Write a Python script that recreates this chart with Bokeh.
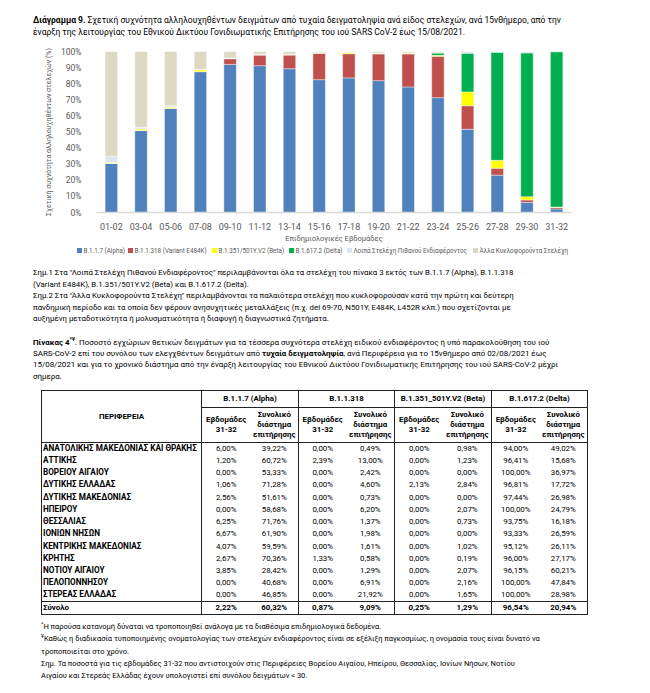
from bokeh.plotting import figure
from bokeh.models import (ColumnDataSource, FactorRange, FixedTicker, PrintfTickFormatter,
                          Div, Range1d)
from bokeh.layouts import column
from bokeh.embed import file_html
from bokeh.resources import INLINE

FONT = "Roboto"

# ---------------- chart data (percent of sequenced samples) ----------------
weeks = ["01-02", "03-04", "05-06", "07-08", "09-10", "11-12", "13-14", "15-16",
         "17-18", "19-20", "21-22", "23-24", "25-26", "27-28", "29-30", "31-32"]
alpha = [30.5, 50.9, 64.7, 87.5, 92.0, 91.2, 89.3, 82.5, 83.6, 81.9, 78.0, 71.3, 51.7, 23.2, 6.2, 2.22]
e484k = [0.0, 0.0, 0.0, 0.0, 3.5, 6.6, 8.6, 16.4, 15.0, 16.6, 20.5, 25.7, 14.6, 4.3, 1.6, 0.87]
beta = [0.5, 1.0, 0.8, 1.2, 0.2, 0.2, 0.1, 0.2, 0.8, 0.4, 0.5, 0.6, 8.6, 4.9, 2.0, 0.25]
delta = [0.0, 0.0, 0.0, 0.0, 0.0, 0.0, 0.0, 0.3, 0.0, 0.0, 0.0, 1.4, 24.0, 67.1, 89.3, 96.54]
other_voi = [4.0, 1.0, 0.8, 0.3, 0.3, 0.3, 0.3, 0.2, 0.2, 0.2, 0.2, 0.3, 1.1, 0.5, 0.9, 0.12]
other_circ = [65.0, 47.1, 33.7, 11.0, 4.0, 1.7, 1.7, 0.4, 0.4, 0.9, 0.8, 0.7, 0.0, 0.0, 0.0, 0.0]

series_names = ["B.1.1.7 (Alpha)", "B.1.1.318 (Variant E484K)", "B.1.351/501Y.V2 (Beta)",
                "B.1.617.2 (Delta)", "Λοιπά Στελέχη Πιθανού Ενδιαφέροντος",
                "Άλλα Κυκλοφορούντα Στελέχη"]
series_colors = ["#4F81BD", "#C0504D", "#FFFF00", "#00B050", "#DCE6F2", "#DDD9C3"]
y_ticks = [0, 10, 20, 30, 40, 50, 60, 70, 80, 90, 100]

# ---------------- table data ----------------
regions = ["ΑΝΑΤΟΛΙΚΗΣ ΜΑΚΕΔΟΝΙΑΣ ΚΑΙ ΘΡΑΚΗΣ", "ΑΤΤΙΚΗΣ", "ΒΟΡΕΙΟΥ ΑΙΓΑΙΟΥ", "ΔΥΤΙΚΗΣ ΕΛΛΑΔΑΣ",
           "ΔΥΤΙΚΗΣ ΜΑΚΕΔΟΝΙΑΣ", "ΗΠΕΙΡΟΥ", "ΘΕΣΣΑΛΙΑΣ", "ΙΟΝΙΩΝ ΝΗΣΩΝ", "ΚΕΝΤΡΙΚΗΣ ΜΑΚΕΔΟΝΙΑΣ",
           "ΚΡΗΤΗΣ", "ΝΟΤΙΟΥ ΑΙΓΑΙΟΥ", "ΠΕΛΟΠΟΝΝΗΣΟΥ", "ΣΤΕΡΕΑΣ ΕΛΛΑΔΑΣ"]
alpha_wk = [6.00, 1.20, 0.00, 1.06, 2.56, 0.00, 6.25, 6.67, 4.07, 2.67, 3.85, 0.00, 0.00]
alpha_tot = [39.22, 60.72, 53.33, 71.28, 51.61, 58.68, 71.76, 61.90, 59.59, 70.36, 28.42, 40.68, 46.85]
b318_wk = [0.00, 2.39, 0.00, 0.00, 0.00, 0.00, 0.00, 0.00, 0.00, 1.33, 0.00, 0.00, 0.00]
b318_tot = [0.49, 13.00, 2.42, 4.60, 0.73, 6.20, 1.37, 1.98, 1.61, 0.58, 1.29, 6.91, 21.92]
beta_wk = [0.00, 0.00, 0.00, 2.13, 0.00, 0.00, 0.00, 0.00, 0.00, 0.00, 0.00, 0.00, 0.00]
beta_tot = [0.98, 1.23, 0.00, 2.84, 0.00, 2.07, 0.73, 0.00, 1.02, 0.19, 2.07, 2.16, 1.65]
delta_wk = [94.00, 96.41, 100.00, 96.81, 97.44, 100.00, 93.75, 93.33, 95.12, 96.00, 96.15, 100.00, 100.00]
delta_tot = [49.02, 15.68, 36.97, 17.72, 26.98, 24.79, 16.18, 26.59, 26.11, 27.17, 60.21, 47.84, 28.98]
total_label = "Σύνολο"
total_row = [2.22, 60.32, 0.87, 9.09, 0.25, 1.29, 96.54, 20.94]
variant_heads = ["B.1.1.7 (Alpha)", "B.1.1.318", "B.1.351_501Y.V2 (Beta)", "B.1.617.2 (Delta)"]

# ---------------- chart ----------------
keys = ["s%d" % i for i in range(6)]
src = ColumnDataSource(dict(week=weeks, s0=alpha, s1=e484k, s2=beta, s3=delta,
                            s4=other_voi, s5=other_circ))

p = figure(x_range=FactorRange(*weeks), y_range=Range1d(0, 100), width=634, height=201,
           output_backend="svg", toolbar_location=None,
           min_border_left=88, min_border_right=71, min_border_top=7, min_border_bottom=32,
           margin=0)
rs = p.vbar_stack(keys, x="week", width=0.42, source=src, fill_color=series_colors,
                  line_color="white", line_width=0.6, line_alpha=0.7)

p.outline_line_color = None
p.xgrid.grid_line_color = None
p.ygrid.grid_line_color = None

p.yaxis.ticker = FixedTicker(ticks=y_ticks)
p.yaxis.formatter = PrintfTickFormatter(format="%d%%")
p.yaxis.axis_line_color = None
p.yaxis.major_tick_line_color = None
p.yaxis.minor_tick_line_color = None
p.yaxis.major_label_standoff = 9
p.yaxis.major_label_text_font = FONT
p.yaxis.major_label_text_font_size = "8.5px"
p.yaxis.major_label_text_color = "#595959"
p.yaxis.axis_label = "Σχετική συχνότητα αλληλουχηθέντων στελεχών (%)"
p.yaxis.axis_label_text_font = FONT
p.yaxis.axis_label_text_font_size = "7px"
p.yaxis.axis_label_text_font_style = "normal"
p.yaxis.axis_label_text_color = "#595959"
p.yaxis.axis_label_standoff = 5

p.xaxis.axis_line_color = "#D9D9D9"
p.xaxis.axis_line_width = 1.5
p.xaxis.major_tick_line_color = None
p.xaxis.minor_tick_line_color = None
p.xaxis.major_label_standoff = 4
p.xaxis.major_label_text_font = FONT
p.xaxis.major_label_text_font_size = "9px"
p.xaxis.major_label_text_color = "#595959"
p.xaxis.axis_label = "Επιδημιολογικές Εβδομάδες"
p.xaxis.axis_label_text_font = FONT
p.xaxis.axis_label_text_font_size = "7.5px"
p.xaxis.axis_label_text_font_style = "normal"
p.xaxis.axis_label_text_color = "#595959"
p.xaxis.axis_label_standoff = 1

# ---------------- legend strip (HTML swatches + labels) ----------------
legend_x = [69, 120, 204, 281, 339, 465]   # left edge of each legend entry (px)
legend_items = "".join(
    f'<span style="position:absolute;left:{lx}px;top:0;white-space:nowrap;">'
    f'<span style="display:inline-block;width:5px;height:5px;background:{c};margin-right:1.5px;'
    f'vertical-align:0px;"></span>{n}</span>'
    for n, c, lx in zip(series_names, series_colors, legend_x))
legend_div = Div(text=(f'<div style="position:relative;width:634px;height:11px;font-family:{FONT};'
                       f'font-size:6.3px;line-height:11px;color:#595959;">' + legend_items + '</div>'),
                 width=634, height=11, margin=0)

# ---------------- text blocks ----------------
title_html = (
    f'<div style="font-family:{FONT};font-size:8.5px;line-height:12px;color:#000;'
    'padding:6px 0 0 25px;white-space:nowrap;">'
    '<b>Διάγραμμα 9.</b> Σχετική συχνότητα αλληλουχηθέντων δειγμάτων από τυχαία δειγματοληψία '
    'ανά είδος στελεχών, ανά 15νθήμερο, από την<br>'
    'έναρξη της λειτουργίας του Εθνικού Δικτύου Γονιδιωματικής Επιτήρησης του ιού SARS CoV-2 έως 15/08/2021.'
    '</div>')
title_div = Div(text=title_html, width=634, height=36, margin=0)


def pct(v):
    return ("%.2f" % v).replace(".", ",") + "%"


B = "1.4px solid #222"
b = "0.8px solid #222"
col_w = [160, 49, 48, 48, 48, 49, 48, 48, 48]
cell = "padding:0;text-align:center;vertical-align:middle;"

rows = []
rows.append(
    '<tr style="height:17px;">'
    f'<th rowspan="2" style="{cell}border:{B};font-weight:bold;">ΠΕΡΙΦΕΡΕΙΑ</th>'
    + "".join(f'<th colspan="2" style="{cell}border-top:{B};border-right:{B};border-bottom:{b};">{h}</th>'
              for h in variant_heads)
    + '</tr>')
sub = ('<th style="{c}border-bottom:{B};">Εβδομάδες<br>31-32</th>'
       '<th style="{c}border-bottom:{B};border-right:{B};">Συνολικό<br>διάστημα<br>επιτήρησης</th>')
rows.append('<tr style="height:35px;">' + sub.format(c=cell, B=B) * 4 + '</tr>')

data_cols = [alpha_wk, alpha_tot, b318_wk, b318_tot, beta_wk, beta_tot, delta_wk, delta_tot]
for i, reg in enumerate(regions):
    tds = [f'<td style="padding:0 0 0 1px;text-align:left;font-weight:bold;font-size:8.2px;'
           f'border-left:{B};border-right:{B};white-space:nowrap;">{reg}</td>']
    for j, colv in enumerate(data_cols):
        br = f"border-right:{B};" if j % 2 == 1 else ""
        tds.append(f'<td style="{cell}{br}">{pct(colv[i])}</td>')
    rows.append('<tr style="height:12.25px;">' + "".join(tds) + '</tr>')

tds = [f'<td style="padding:0 0 0 1px;text-align:left;font-weight:bold;border:{B};">{total_label}</td>']
for j, v in enumerate(total_row):
    br = f"border-right:{B};" if j % 2 == 1 else ""
    tds.append(f'<td style="{cell}font-weight:bold;border-top:{B};border-bottom:{B};{br}">{pct(v)}</td>')
rows.append('<tr style="height:12.5px;">' + "".join(tds) + '</tr>')

colgroup = "<colgroup>" + "".join(f'<col style="width:{w}px;">' for w in col_w) + "</colgroup>"
table_html = (
    f'<table style="position:absolute;left:33px;top:134px;width:{sum(col_w)}px;border-collapse:collapse;'
    f'table-layout:fixed;font-family:{FONT};font-size:7.9px;line-height:9.8px;color:#000;">'
    + colgroup + "".join(rows) + "</table>")

notes_html = (
    f'<div style="position:absolute;left:25px;top:11px;font-size:7.85px;line-height:11.6px;white-space:nowrap;">'
    'Σημ.1 Στα "Λοιπά Στελέχη Πιθανού Ενδιαφέροντος" περιλαμβάνονται όλα τα στελέχη του πίνακα 3 εκτός των B.1.1.7 (Alpha), B.1.1.318<br>'
    '(Variant E484K), B.1.351/501Y.V2 (Beta) και B.1.617.2 (Delta).<br>'
    'Σημ.2 Στα "Άλλα Κυκλοφορούντα Στελέχη" περιλαμβάνονται τα παλαιότερα στελέχη που κυκλοφορούσαν κατά την πρώτη και δεύτερη<br>'
    'πανδημική περίοδο και τα οποία δεν φέρουν ανησυχητικές μεταλλάξεις (π.χ. del 69-70, N501Y, E484K, L452R κλπ.) που σχετίζονται με<br>'
    'αυξημένη μεταδοτικότητα ή μολυσματικότητα ή διαφυγή ή διαγνωστικά ζητήματα.'
    '</div>')

caption_html = (
    f'<div style="position:absolute;left:25px;top:81px;font-size:7.95px;line-height:11.2px;white-space:nowrap;">'
    '<b>Πίνακας 4<sup style="font-size:5.5px;line-height:0;">*¥</sup></b>. Ποσοστό εγχώριων θετικών δειγμάτων για τα τέσσερα συχνότερα στελέχη ειδικού ενδιαφέροντος ή υπό παρακολούθηση του ιού<br>'
    'SARS-CoV-2 επί του συνόλου των ελεγχθέντων δειγμάτων από <b>τυχαία δειγματοληψία</b>, ανά Περιφέρεια για το 15νθήμερο από 02/08/2021 έως<br>'
    '15/08/2021 και για το χρονικό διάστημα από την έναρξη λειτουργίας του Εθνικού Δικτύου Γονιδιωματικής Επιτήρησης του ιού SARS-CoV-2 μέχρι<br>'
    'σήμερα.'
    '</div>')

foot_html = (
    f'<div style="position:absolute;left:33px;top:365px;font-size:7.5px;line-height:12.3px;white-space:nowrap;">'
    '<sup style="font-size:5.5px;line-height:0;">*</sup>Η παρούσα κατανομή δύναται να τροποποιηθεί ανάλογα με τα διαθέσιμα επιδημιολογικά δεδομένα.<br>'
    '<sup style="font-size:5.5px;line-height:0;">¥</sup>Καθώς η διαδικασία τυποποιημένης ονοματολογίας των στελεχών ενδιαφέροντος είναι σε εξέλιξη παγκοσμίως, η ονομασία τους είναι δυνατό να<br>'
    'τροποποιείται στο χρόνο.<br>'
    'Σημ. Τα ποσοστά για τις εβδομάδες 31-32 που αντιστοιχούν στις Περιφέρειες Βορείου Αιγαίου, Ηπείρου, Θεσσαλίας, Ιονίων Νήσων, Νοτίου<br>'
    'Αιγαίου και Στερεάς Ελλάδας έχουν υπολογιστεί επί συνόλου δειγμάτων &lt; 30.'
    '</div>')

rest_html = (f'<div style="position:relative;width:634px;height:429px;font-family:{FONT};color:#000;">'
             + notes_html + caption_html + table_html + foot_html + '</div>')
rest_div = Div(text=rest_html, width=634, height=429, margin=0)

layout = column(title_div, p, legend_div, rest_div, spacing=0, margin=(8, 0, 0, 8))

with open("out.html", "w") as f:
    f.write(file_html(layout, INLINE))
